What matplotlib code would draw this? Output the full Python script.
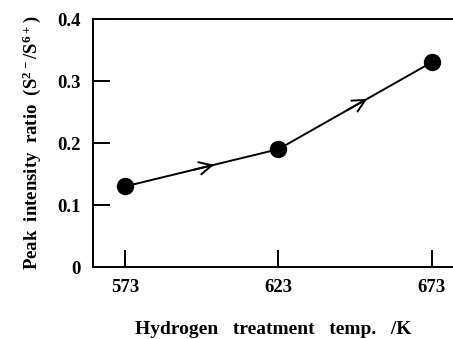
import matplotlib

matplotlib.use("Agg")
import matplotlib.pyplot as plt

# Data
temps = [573, 623, 673]
ratio = [0.13, 0.19, 0.33]
x_ticks = [573, 623, 673]
y_ticks = [0, 0.1, 0.2, 0.3, 0.4]
y_tick_labels = ["0", "0.1", "0.2", "0.3", "0.4"]

plt.rcParams["font.family"] = ["Liberation Serif", "DejaVu Serif"]
plt.rcParams["font.weight"] = "bold"
plt.rcParams["mathtext.default"] = "regular"

fig = plt.figure(figsize=(4.53, 3.39), dpi=100)
ax = fig.add_axes([93 / 453, 72 / 339, 360 / 453, 248 / 339])

ax.plot(temps, ratio, color="black", lw=1.4, marker="o", ms=11.5,
        markerfacecolor="black", markeredgecolor="black", zorder=3)

# open arrowheads near the middle of each segment
for (x0, y0), (x1, y1) in zip(zip(temps, ratio), zip(temps[1:], ratio[1:])):
    fa, fb = 0.45, 0.58
    ax.annotate("", xy=(x0 + fb * (x1 - x0), y0 + fb * (y1 - y0)),
                xytext=(x0 + fa * (x1 - x0), y0 + fa * (y1 - y0)),
                arrowprops=dict(arrowstyle="->,head_length=0.9,head_width=0.45",
                                color="black", lw=1.4, shrinkA=0, shrinkB=0))

ax.set_xlim(562.5, 680)
ax.set_ylim(0, 0.4)
ax.set_xticks(x_ticks)
ax.set_xticklabels([str(t) for t in x_ticks])
ax.set_yticks(y_ticks)
ax.set_yticklabels(y_tick_labels)

ax.spines["right"].set_visible(False)
for s in ("left", "top", "bottom"):
    ax.spines[s].set_linewidth(1.4)
ax.tick_params(direction="in", length=12, width=1.4, labelsize=13.5)
ax.tick_params(axis="y", pad=9)
ax.tick_params(axis="x", pad=9)

ax.set_xlabel("Hydrogen   treatment   temp.   /K", fontsize=14, fontweight="bold",
              labelpad=18)
ax.set_ylabel(r"Peak  intensity  ratio  (S$^{2-}$/S$^{6+}$)", fontsize=13.5,
              fontweight="bold", labelpad=10)

fig.savefig("out.png", dpi=100)
